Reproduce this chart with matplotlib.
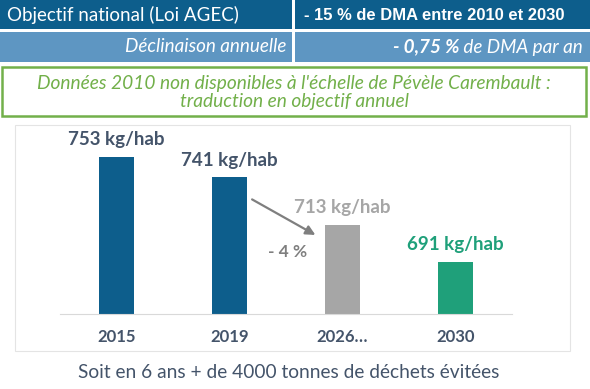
import matplotlib.pyplot as plt
from matplotlib.patches import Rectangle

plt.rcParams['font.family'] = ['Lato', 'DejaVu Sans']

# données
categories = ['2015', '2019', '2026…', '2030']
dma = [753, 741, 713, 691]
labels = ['753 kg/hab', '741 kg/hab', '713 kg/hab', '691 kg/hab']
baisse = '- 4 %'

# couleurs
bleu = '#0D5E8C'
bleu_clair = '#5E96C2'
gris = '#A6A6A6'
vert = '#1FA07A'
vert_txt = '#72B04A'
texte = '#44546A'
bar_colors = [bleu, bleu, gris, vert]
label_colors = [texte, texte, gris, vert]

W, H = 590, 389
fig = plt.figure(figsize=(W / 100, H / 100), dpi=100)


def px(x, y):
    # pixels (origine en haut à gauche) -> coordonnées figure
    return x / W, 1 - y / H


def box(x0, y0, x1, y1, **kw):
    fx, fy = px(x0, y1)
    fig.patches.append(Rectangle((fx, fy), (x1 - x0) / W, (y1 - y0) / H,
                                 transform=fig.transFigure, **kw))


# bandeau du haut
box(0, 0, 292, 29, facecolor=bleu, edgecolor='none')
box(295, 0, 590, 29, facecolor=bleu, edgecolor='none')
box(0, 32, 292, 62, facecolor=bleu_clair, edgecolor='none')
box(295, 32, 590, 62, facecolor=bleu_clair, edgecolor='none')

fig.text(*px(7, 15), 'Objectif national (Loi AGEC)', color='white',
         fontsize=13.5, ha='left', va='center')
fig.text(*px(304, 15), '- 15 % de DMA entre 2010 et 2030', color='white',
         fontsize=11.9, fontweight='bold', family='Liberation Sans',
         ha='left', va='center')
fig.text(*px(286, 47), 'Déclinaison annuelle', color='white', fontsize=13.6,
         style='italic', ha='right', va='center')
t_reg = fig.text(*px(583, 47), ' de DMA par an', color='white', fontsize=13.6,
                 style='italic', ha='right', va='center')

# encadré vert
box(2, 67, 586, 116, facecolor='white', edgecolor=vert_txt, linewidth=1.8)
fig.text(*px(294, 83), "Données 2010 non disponibles à l'échelle de Pévèle Carembault :",
         color=vert_txt, fontsize=13.8, style='italic', ha='center', va='center')
fig.text(*px(294, 101), 'traduction en objectif annuel',
         color=vert_txt, fontsize=13.8, style='italic', ha='center', va='center')

# cadre du graphique
box(15, 125, 570, 351, facecolor='none', edgecolor='#E4E4E4', linewidth=0.8)

# graphique
x0, y0 = px(60, 314)
x1, y1 = px(512, 130)
ax = fig.add_axes([x0, y0, x1 - x0, y1 - y0])
ax.set_facecolor('none')
pos = range(len(categories))
bars = ax.bar(pos, dma, width=0.31, color=bar_colors)
ax.set_xlim(-0.5, len(categories) - 0.5)
ax.set_ylim(660.3, 769)

for b, lab, c in zip(bars, labels, label_colors):
    ax.annotate(lab, (b.get_x() + b.get_width() / 2, b.get_height()),
                xytext=(0, 12.5), textcoords='offset points',
                ha='center', va='center', fontsize=13.5, fontweight='bold', color=c)

ax.set_xticks(list(pos))
ax.set_xticklabels(categories, fontsize=12, fontweight='bold', color=texte)
ax.tick_params(axis='x', length=0, pad=11)
ax.set_yticks([])
for s in ['top', 'left', 'right']:
    ax.spines[s].set_visible(False)
ax.spines['bottom'].set_color('#D9D9D9')
ax.spines['bottom'].set_linewidth(0.8)

# flèche 2019 -> 2026
ax.annotate('', xy=(1.76, 707), xytext=(1.2, 728),
            arrowprops=dict(arrowstyle='-|>', color='#7F7F7F', lw=1.6,
                            mutation_scale=14, shrinkA=0, shrinkB=0))
ax.text(1.51, 697, baisse, color='#7F7F7F', fontsize=12.5, fontweight='bold',
        ha='center', va='center')

fig.text(*px(289, 372), 'Soit en 6 ans + de 4000 tonnes de déchets évitées',
         color=texte, fontsize=13.8, ha='center', va='center')

# partie en gras de "- 0,75 % de DMA par an"
fig.canvas.draw()
bb = t_reg.get_window_extent()
fig.text(bb.x0 / W, 1 - 47 / H, '- 0,75 %', color='white', fontsize=13.6,
         style='italic', fontweight='bold', ha='right', va='center')

fig.savefig('out.png', dpi=100)
